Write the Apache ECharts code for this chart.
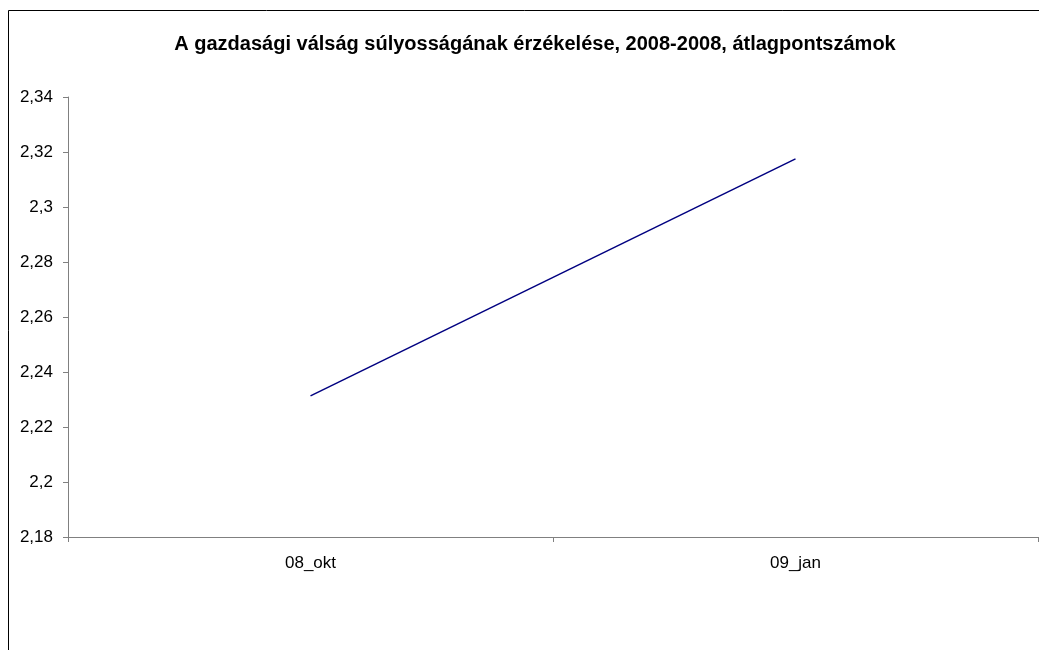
<!DOCTYPE html>
<html>
<head>
<meta charset="utf-8">
<script src="https://cdn.jsdelivr.net/npm/echarts@6/dist/echarts.min.js"></script>
<style>html,body{margin:0;padding:0;background:#fff}#c{width:1039px;height:650px}</style>
</head>
<body>
<div id="c"></div>
<script>
var titleText = 'A gazdasági válság súlyosságának érzékelése, 2008-2008, átlagpontszámok';
var categories = ['08_okt', '09_jan'];
var values = [2.2313, 2.3175];
var yMin = 2.18, yMax = 2.34, yStep = 0.02;

var chart = echarts.init(document.getElementById('c'));
chart.setOption({
  backgroundColor: '#ffffff',
  animation: false,
  title: {
    text: titleText,
    left: 530, top: 29, textAlign: 'center',
    textStyle: { fontFamily: 'Liberation Sans, Arial', fontSize: 20, fontWeight: 'bold', color: '#000' }
  },
  graphic: [{
    type: 'rect', silent: true,
    shape: { x: 8.5, y: 10.5, width: 1100, height: 700 },
    style: { fill: 'none', stroke: '#000', lineWidth: 1 }
  }],
  grid: { left: 68, right: 1, top: 97, bottom: 113, containLabel: false },
  xAxis: {
    type: 'category',
    data: categories,
    boundaryGap: true,
    axisLine: { lineStyle: { color: '#808080', width: 1 } },
    axisTick: { show: true, length: 5, alignWithLabel: false, lineStyle: { color: '#808080' } },
    axisLabel: { margin: 18, color: '#000', fontSize: 17, fontFamily: 'Liberation Sans, Arial' },
    splitLine: { show: false }
  },
  yAxis: {
    type: 'value',
    min: yMin, max: yMax, interval: yStep,
    axisLine: { show: true, lineStyle: { color: '#808080', width: 1 } },
    axisTick: { show: true, length: 5, lineStyle: { color: '#808080' } },
    axisLabel: {
      margin: 15, color: '#000', fontSize: 17, fontFamily: 'Liberation Sans, Arial',
      formatter: function (v) { return String(parseFloat(v.toFixed(2))).replace('.', ','); }
    },
    splitLine: { show: false }
  },
  series: [{
    type: 'line',
    data: values,
    showSymbol: false,
    symbol: 'none',
    lineStyle: { color: '#000080', width: 1.5 }
  }]
});
</script>
</body>
</html>
